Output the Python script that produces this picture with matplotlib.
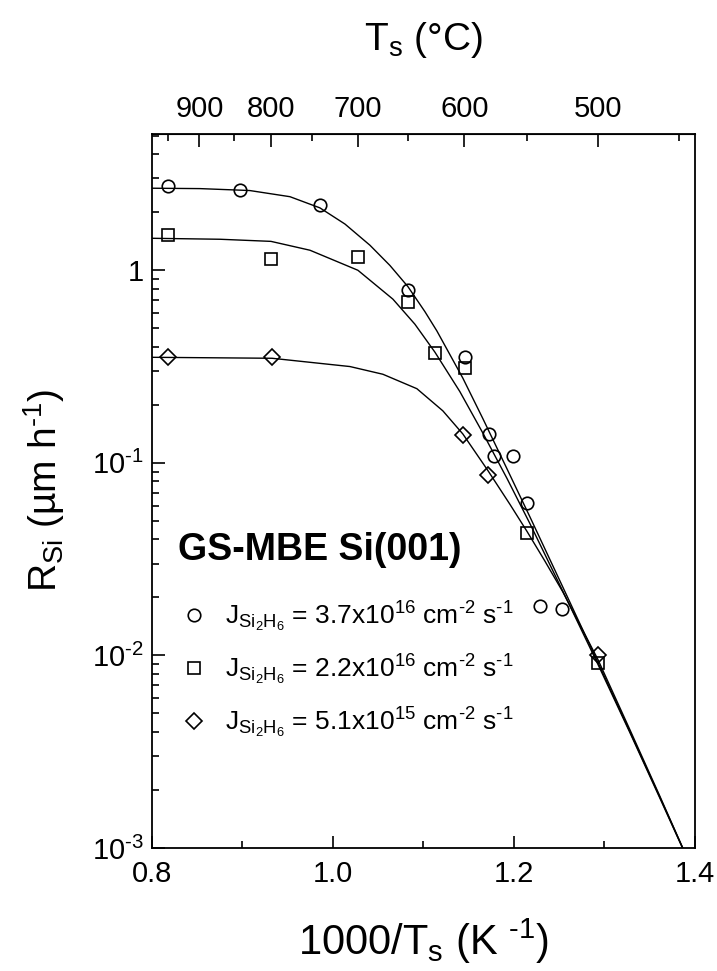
import matplotlib
matplotlib.use("Agg")
import matplotlib.pyplot as plt
from matplotlib.ticker import FixedLocator, LogLocator, NullFormatter, MultipleLocator

plt.rcParams['font.family'] = ['Liberation Sans', 'DejaVu Sans']
plt.rcParams['mathtext.fontset'] = 'custom'
plt.rcParams['mathtext.rm'] = 'Liberation Sans'
plt.rcParams['mathtext.it'] = 'Liberation Sans:italic'
plt.rcParams['mathtext.bf'] = 'Liberation Sans:bold'
plt.rcParams['axes.unicode_minus'] = False

# measured growth rates: x = 1000/Ts (1/K), y = R_Si (um/h)
circ_x = [0.818, 0.897, 0.986, 1.083, 1.146, 1.172, 1.178, 1.199, 1.215, 1.229, 1.253]
circ_y = [2.73, 2.60, 2.18, 0.787, 0.353, 0.142, 0.108, 0.109, 0.0616, 0.0180, 0.0175]

sq_x = [0.818, 0.9315, 1.028, 1.083, 1.113, 1.146, 1.214, 1.293]
sq_y = [1.52, 1.15, 1.17, 0.682, 0.371, 0.310, 0.043, 0.0091]

dia_x = [0.818, 0.9326, 1.1436, 1.171, 1.293]
dia_y = [0.353, 0.353, 0.139, 0.0861, 0.0100]

# fitted curves (log10 of R_Si)
fit_circ_x = [0.800, 0.853, 0.908, 0.9525, 0.9856, 1.0133, 1.0409, 1.063, 1.0829, 1.1017,
              1.1149, 1.1436, 1.1657, 1.1923, 1.2177, 1.2586, 1.2928, 1.3282, 1.3613, 1.3867]
fit_circ_logy = [0.426, 0.424, 0.414, 0.382, 0.324, 0.240, 0.130, 0.025, -0.085, -0.215,
                 -0.315, -0.560, -0.770, -1.030, -1.280, -1.690, -2.035, -2.395, -2.735, -3.000]

fit_sq_x = [0.800, 0.8751, 0.9315, 0.9746, 1.0276, 1.0663, 1.0906, 1.1127, 1.1403, 1.1657,
            1.1923, 1.2177, 1.2586, 1.2928, 1.3282, 1.3613, 1.3867]
fit_sq_logy = [0.166, 0.161, 0.150, 0.104, 0.000, -0.150, -0.280, -0.425, -0.630, -0.845,
               -1.080, -1.315, -1.710, -2.045, -2.400, -2.740, -3.003]

fit_dia_x = [0.800, 0.9326, 1.0188, 1.0552, 1.0928, 1.1215, 1.1436, 1.1713, 1.1956, 1.2144,
             1.2343, 1.2541, 1.2729, 1.2928, 1.3282, 1.3613, 1.3867]
fit_dia_logy = [-0.452, -0.457, -0.500, -0.540, -0.615, -0.730, -0.850, -1.040, -1.215, -1.355,
                -1.510, -1.670, -1.840, -2.020, -2.385, -2.730, -3.000]

labels = [r"$\mathregular{J_{Si_2H_6}}$ = 3.7x10$^{\mathregular{16}}$ cm$^{\text{-2}}$ s$^{\text{-1}}$",
          r"$\mathregular{J_{Si_2H_6}}$ = 2.2x10$^{\mathregular{16}}$ cm$^{\text{-2}}$ s$^{\text{-1}}$",
          r"$\mathregular{J_{Si_2H_6}}$ = 5.1x10$^{\mathregular{15}}$ cm$^{\text{-2}}$ s$^{\text{-1}}$"]

top_T = [900, 800, 700, 600, 500]
top_T_minor = [950, 850, 750, 650, 550, 450]

fig = plt.figure(figsize=(7.17, 9.71), dpi=100)
ax = fig.add_axes([0.212, 0.1267, 0.757, 0.7353])

for fx, fly in [(fit_circ_x, fit_circ_logy), (fit_sq_x, fit_sq_logy), (fit_dia_x, fit_dia_logy)]:
    ax.plot(fx, [10 ** v for v in fly], color='black', lw=1.0)

mk = dict(ls='none', mfc='none', mec='black', mew=1.2)
ax.plot(circ_x, circ_y, marker='o', ms=9, label=labels[0], **mk)
ax.plot(sq_x, sq_y, marker='s', ms=8.5, label=labels[1], **mk)
ax.plot(dia_x, dia_y, marker='D', ms=8.5, label=labels[2], **mk)

ax.set_yscale('log')
ax.set_xlim(0.8, 1.4)
ax.set_ylim(1e-3, 5.1)

ax.xaxis.set_major_locator(FixedLocator([0.8, 1.0, 1.2, 1.4]))
ax.xaxis.set_minor_locator(MultipleLocator(0.1))
ax.set_xticklabels(['0.8', '1.0', '1.2', '1.4'])
ax.yaxis.set_major_locator(FixedLocator([1e-3, 1e-2, 1e-1, 1]))
ax.set_yticklabels([r'10$^{\text{-3}}$', r'10$^{\text{-2}}$',
                    r'10$^{\text{-1}}$', '1'])
ax.yaxis.set_minor_locator(LogLocator(base=10, subs=range(2, 10), numticks=20))
ax.yaxis.set_minor_formatter(NullFormatter())

ax.tick_params(which='both', direction='in', top=False, right=False, labelsize=21, width=1.2)
ax.tick_params(which='major', length=9, pad=9)
ax.tick_params(which='minor', length=5)
ax.tick_params(axis='y', pad=6)
for s in ax.spines.values():
    s.set_linewidth(1.3)

sec = ax.secondary_xaxis('top', functions=(lambda x: 1000.0 / x - 273.15,
                                           lambda t: 1000.0 / (t + 273.15)))
sec.xaxis.set_major_locator(FixedLocator(top_T))
sec.xaxis.set_minor_locator(FixedLocator(top_T_minor))
sec.set_xticklabels([str(t) for t in top_T])
sec.tick_params(which='both', direction='in', labelsize=21, width=1.2)
sec.tick_params(which='major', length=9, pad=8)
sec.tick_params(which='minor', length=5)
sec.set_xlabel(r'T$_{\mathregular{s}}$ (°C)', fontsize=28, labelpad=32)

ax.set_xlabel(r'1000/T$_{\mathregular{s}}$ (K $^{\text{-1}}$)', fontsize=30, labelpad=20)
ax.set_ylabel(r'R$_{\mathregular{Si}}$ (µm h$^{\text{-1}}$)', fontsize=28, labelpad=18)

ax.text(0.048, 0.417, 'GS-MBE Si(001)', transform=ax.transAxes, fontsize=27,
        fontweight='bold', va='center', ha='left')
ax.legend(loc='upper left', bbox_to_anchor=(0.028, 0.366), frameon=False, fontsize=19,
          handlelength=1.0, handletextpad=0.7, labelspacing=0.7, borderpad=0)

fig.savefig('out.png', dpi=100)
